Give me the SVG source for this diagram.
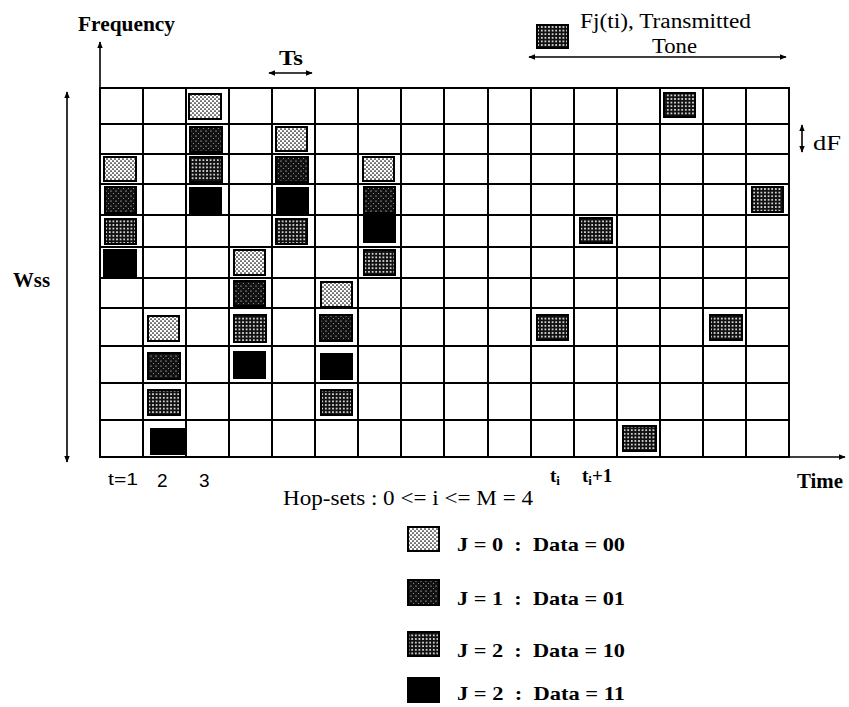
<svg xmlns="http://www.w3.org/2000/svg" width="849" height="707" viewBox="0 0 849 707">
<style>
.g{stroke:#000;stroke-width:2;fill:none}
.ax{stroke:#000;stroke-width:1.6;fill:none}
.t0{fill:url(#p0);stroke:#000;stroke-width:2}
.t1{fill:url(#p1);stroke:#000;stroke-width:2}
.t2{fill:url(#p2);stroke:#000;stroke-width:2}
.t3{fill:#000;stroke:#000;stroke-width:2}
.sb{font-family:"Liberation Serif","Times New Roman",serif;font-weight:bold;fill:#000}
.sr{font-family:"Liberation Serif","Times New Roman",serif;fill:#000}
.ss{font-family:"Liberation Sans",Arial,sans-serif;fill:#000}
.pre{white-space:pre}
</style>
<defs>
<pattern id="p0" width="4" height="4" patternUnits="userSpaceOnUse"><rect width="4" height="4" fill="#fff"/><circle cx="1" cy="1" r="0.85" fill="#000"/><circle cx="3" cy="3" r="0.85" fill="#000"/></pattern>
<pattern id="p1" width="5" height="5" patternUnits="userSpaceOnUse"><rect width="5" height="5" fill="#111"/><circle cx="1" cy="1" r="0.6" fill="#fff"/><circle cx="3.5" cy="3.5" r="0.5" fill="#bbb"/></pattern>
<pattern id="p2" width="3.6" height="3.6" patternUnits="userSpaceOnUse"><rect width="3.6" height="3.6" fill="#111"/><circle cx="1.8" cy="1.8" r="0.95" fill="#fff"/></pattern>
<marker id="ah" viewBox="0 0 10 10" refX="9" refY="5" markerWidth="7" markerHeight="7" orient="auto-start-reverse" markerUnits="userSpaceOnUse"><path d="M0,1 L10,5 L0,9 z" fill="#000"/></marker>
</defs>

<g id="grid">
<rect class="g" x="100" y="88" width="689" height="369"/>
<path class="g" d="M143 88V457M186 88V457M229 88V457M272 88V457M315 88V457M358 88V457M401 88V457M444 88V457M488 88V457M531 88V457M574 88V457M617 88V457M660 88V457M703 88V457M746 88V457
M100 124H789M100 154H789M100 184H789M100 215H789M100 247H789M100 278H789M100 308H789M100 346H789M100 383H789M100 420H789"/>
</g>

<g id="connectors">
<line class="ax" x1="100" y1="457" x2="100" y2="42" marker-end="url(#ah)"/>
<line class="ax" x1="100" y1="457" x2="845" y2="457" marker-end="url(#ah)"/>
<line class="ax" x1="67" y1="92" x2="67" y2="462" marker-start="url(#ah)" marker-end="url(#ah)"/>
<line class="ax" x1="269" y1="73" x2="312" y2="73" marker-start="url(#ah)" marker-end="url(#ah)"/>
<line class="ax" x1="529" y1="57" x2="786" y2="57" marker-start="url(#ah)" marker-end="url(#ah)"/>
<line class="ax" x1="802" y1="125" x2="802" y2="152" marker-start="url(#ah)" marker-end="url(#ah)"/>
</g>

<g id="tiles">
<rect class="t0" x="189" y="94" width="32" height="25"/>
<rect class="t2" x="664" y="93" width="31" height="24"/>
<rect class="t1" x="190" y="127" width="32" height="25"/>
<rect class="t0" x="276" y="127" width="31" height="24"/>
<rect class="t0" x="104" y="157" width="32" height="24"/>
<rect class="t2" x="190" y="157" width="32" height="25"/>
<rect class="t1" x="276" y="157" width="32" height="25"/>
<rect class="t0" x="363" y="157" width="31" height="24"/>
<rect class="t1" x="105" y="187" width="31" height="26"/>
<rect class="t3" x="190" y="188" width="31" height="25"/>
<rect class="t3" x="277" y="188" width="31" height="25"/>
<rect class="t1" x="364" y="187" width="31" height="26"/>
<rect class="t2" x="752" y="187" width="31" height="25"/>
<rect class="t2" x="105" y="219" width="31" height="25"/>
<rect class="t2" x="276" y="219" width="31" height="25"/>
<rect class="t3" x="364" y="217" width="31" height="25"/>
<rect class="t2" x="580" y="218" width="32" height="25"/>
<rect class="t3" x="104" y="250" width="32" height="27"/>
<rect class="t0" x="234" y="250" width="31" height="25"/>
<rect class="t2" x="364" y="250" width="31" height="25"/>
<rect class="t1" x="234" y="281" width="31" height="25"/>
<rect class="t0" x="321" y="282" width="31" height="25"/>
<rect class="t0" x="148" y="316" width="31" height="25"/>
<rect class="t2" x="234" y="315" width="32" height="27"/>
<rect class="t1" x="320" y="315" width="32" height="26"/>
<rect class="t2" x="537" y="315" width="31" height="25"/>
<rect class="t2" x="710" y="315" width="32" height="25"/>
<rect class="t1" x="148" y="353" width="32" height="26"/>
<rect class="t3" x="234" y="352" width="31" height="26"/>
<rect class="t3" x="321" y="354" width="31" height="25"/>
<rect class="t2" x="148" y="390" width="32" height="25"/>
<rect class="t2" x="321" y="390" width="31" height="25"/>
<rect class="t3" x="151" y="429" width="33" height="25"/>
<rect class="t2" x="623" y="426" width="33" height="25"/>
</g>

<g id="labels">
<text class="sb" x="78" y="31" font-size="20" textLength="97" lengthAdjust="spacingAndGlyphs">Frequency</text>
<text class="sb" x="279" y="65" font-size="20" textLength="24" lengthAdjust="spacingAndGlyphs">Ts</text>
<text class="sb" x="13" y="287" font-size="20" textLength="37" lengthAdjust="spacingAndGlyphs">Wss</text>
<text class="sb" x="797" y="488" font-size="20" textLength="46" lengthAdjust="spacingAndGlyphs">Time</text>
<text class="sr" x="813" y="150" font-size="20" textLength="28" lengthAdjust="spacingAndGlyphs">dF</text>
<text class="sr" x="580" y="28" font-size="20" textLength="171" lengthAdjust="spacingAndGlyphs">Fj(ti), Transmitted</text>
<text class="sr" x="652" y="53" font-size="20" textLength="45" lengthAdjust="spacingAndGlyphs">Tone</text>
<rect class="t2" x="537" y="25" width="31" height="23"/>
<text class="ss" x="108" y="485" font-size="16" textLength="30" lengthAdjust="spacingAndGlyphs">t=1</text>
<text class="ss" x="157" y="487" font-size="19">2</text>
<text class="ss" x="199" y="487" font-size="19">3</text>
<text class="sb" x="550" y="482" font-size="19">t<tspan font-size="13" dy="3">i</tspan></text>
<text class="sb" x="582" y="482" font-size="19">t<tspan font-size="13" dy="3">i</tspan><tspan dy="-3">+1</tspan></text>
</g>

<g id="legend">
<text class="sr" x="283" y="505" font-size="20" textLength="250" lengthAdjust="spacingAndGlyphs">Hop-sets : 0 &lt;= i &lt;= M = 4</text>
<rect class="t0" x="408" y="527" width="31" height="24"/>
<text class="sb pre" x="457" y="551" font-size="19" textLength="168" lengthAdjust="spacingAndGlyphs">J = 0  :  Data = 00</text>
<rect class="t1" x="408" y="580" width="31" height="25"/>
<text class="sb pre" x="457" y="605" font-size="19" textLength="168" lengthAdjust="spacingAndGlyphs">J = 1  :  Data = 01</text>
<rect class="t2" x="408" y="632" width="31" height="24"/>
<text class="sb pre" x="457" y="657" font-size="19" textLength="168" lengthAdjust="spacingAndGlyphs">J = 2  :  Data = 10</text>
<rect class="t3" x="408" y="678" width="31" height="24"/>
<text class="sb pre" x="457" y="700" font-size="19" textLength="168" lengthAdjust="spacingAndGlyphs">J = 2  :  Data = 11</text>
</g>
</svg>
